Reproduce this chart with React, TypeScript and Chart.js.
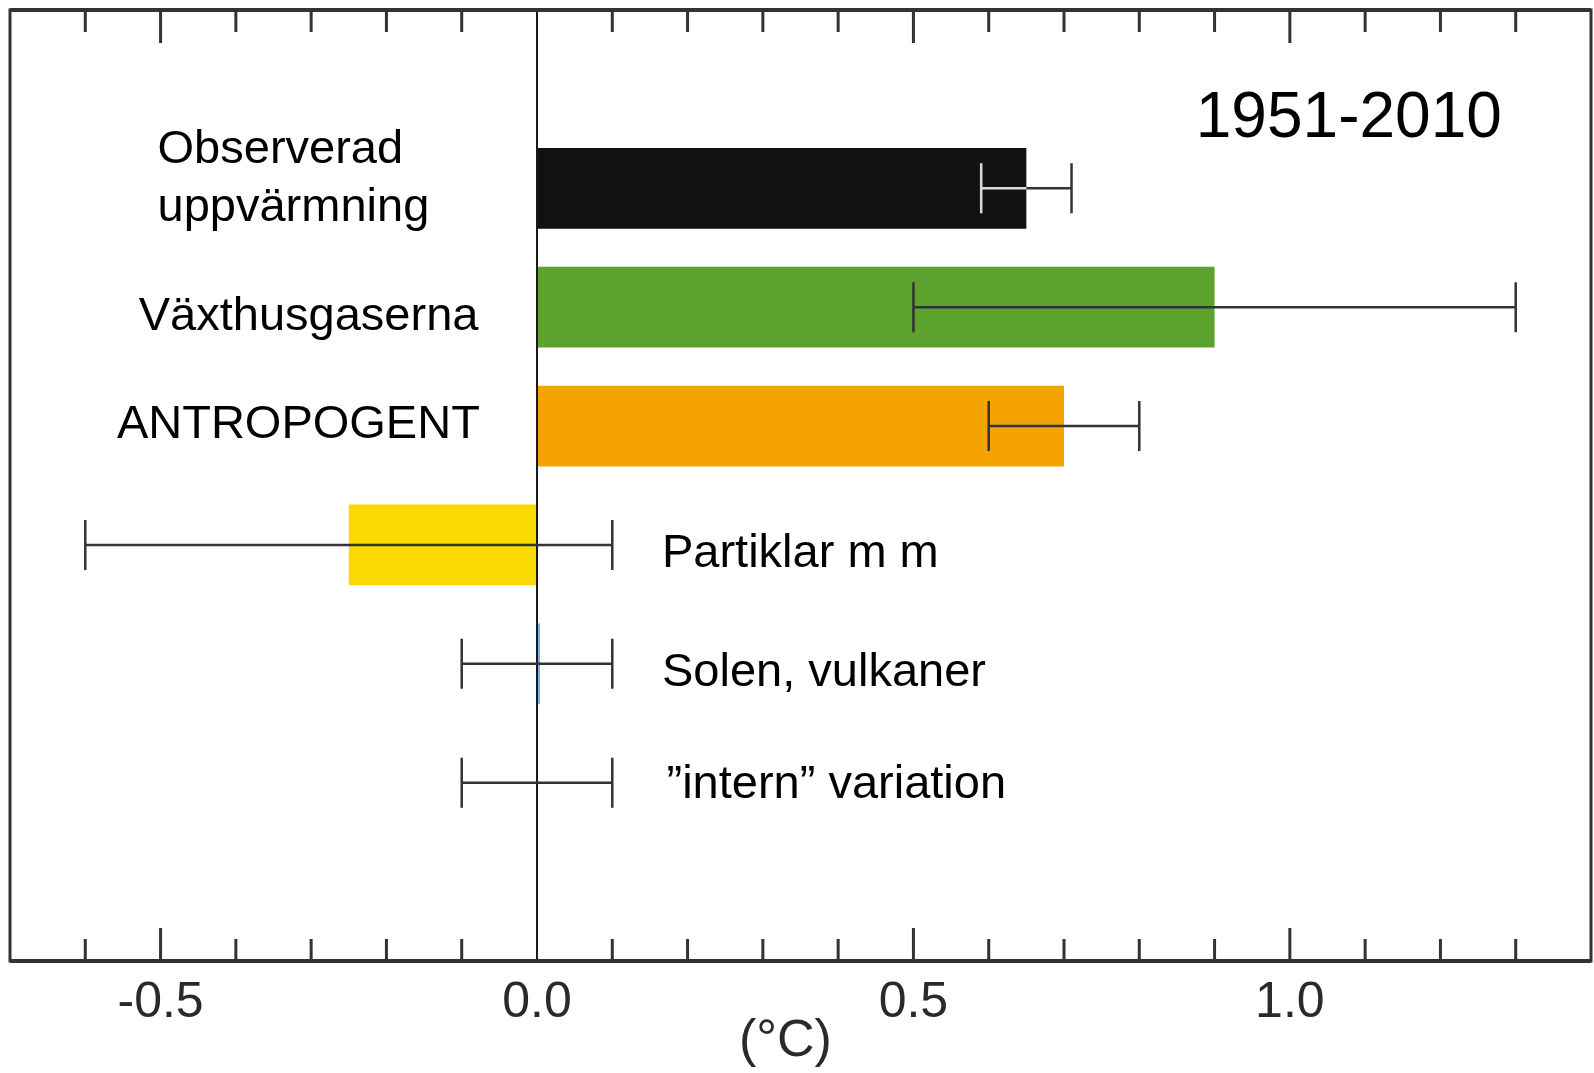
import React, { useEffect, useRef } from 'react';
import { Chart, registerables } from 'chart.js';

Chart.register(...registerables);

// ---- data ----
const categories: (string | string[])[] = [
  '',
  ['Observerad', 'uppvärmning'],
  'Växthusgaserna',
  'ANTROPOGENT',
  'Partiklar m m',
  'Solen, vulkaner',
  '”intern” variation',
  '',
];
const barValues: (number | null)[] = [null, 0.65, 0.9, 0.7, -0.25, 0.004, null, null];
const errLow: (number | null)[] = [null, 0.59, 0.5, 0.6, -0.6, -0.1, -0.1, null];
const errHigh: (number | null)[] = [null, 0.71, 1.3, 0.8, 0.1, 0.1, 0.1, null];
const minorTicks = [-0.6, -0.5, -0.4, -0.3, -0.2, -0.1, 0.1, 0.2, 0.3, 0.4, 0.5, 0.6, 0.7, 0.8, 0.9, 1.0, 1.1, 1.2, 1.3];
const majorTicks = [-0.5, 0.5, 1.0];
const tickLabelValues = [-0.5, 0.0, 0.5, 1.0];
const tickLabels = ['-0.5', '0.0', '0.5', '1.0'];
const periodTitle = '1951-2010';
const unitLabel = '(°C)';

// ---- styles ----
const barColors = ['#000000', '#111111', '#5ba22e', '#f5a300', '#fad900', '#7fb0e8', '#000000', '#000000'];
const FONT = '"Liberation Sans", Arial, Helvetica, sans-serif';
// label placement: anchor x (data units), side, baseline offsets from row centre
const labelPlacement: Record<number, { x: number; dy: number[] }> = {
  1: { x: -0.504, dy: [-25, 33] },
  2: { x: -0.529, dy: [23] },
  3: { x: -0.558, dy: [12] },
  4: { x: 0.166, dy: [22] },
  5: { x: 0.166, dy: [22] },
  6: { x: 0.172, dy: [15] },
};

const overlayPlugin = {
  id: 'overlay',
  afterDatasetsDraw(chart: any) {
    const { ctx, chartArea, scales } = chart;
    const xs = scales.x;
    const ys = scales.y;
    ctx.save();
    // zero line
    const x0 = xs.getPixelForValue(0);
    ctx.strokeStyle = '#1a1a1a';
    ctx.lineWidth = 2;
    ctx.beginPath();
    ctx.moveTo(x0, chartArea.top);
    ctx.lineTo(x0, chartArea.bottom);
    ctx.stroke();

    // error bars
    const cap = 25;
    for (let i = 0; i < categories.length; i++) {
      const lo = errLow[i];
      const hi = errHigh[i];
      if (lo == null || hi == null) continue;
      const yc = ys.getPixelForValue(i);
      const xl = xs.getPixelForValue(lo);
      const xh = xs.getPixelForValue(hi);
      ctx.lineWidth = 2.5;
      ctx.strokeStyle = '#333333';
      ctx.beginPath();
      ctx.moveTo(xl, yc);
      ctx.lineTo(xh, yc);
      ctx.moveTo(xl, yc - cap);
      ctx.lineTo(xl, yc + cap);
      ctx.moveTo(xh, yc - cap);
      ctx.lineTo(xh, yc + cap);
      ctx.stroke();
      // light whisker where it lies on a black bar
      const v = barValues[i];
      if (v != null && barColors[i] === '#111111') {
        const xb = xs.getPixelForValue(v);
        ctx.strokeStyle = '#d8d8d8';
        ctx.beginPath();
        ctx.moveTo(xl, yc);
        ctx.lineTo(Math.min(xb, xh), yc);
        ctx.moveTo(xl, yc - cap);
        ctx.lineTo(xl, yc + cap);
        ctx.stroke();
      }
    }

    // category labels
    ctx.fillStyle = '#000000';
    ctx.font = `47px ${FONT}`;
    ctx.textAlign = 'left';
    ctx.textBaseline = 'alphabetic';
    for (let i = 0; i < categories.length; i++) {
      const p = labelPlacement[i];
      if (!p) continue;
      const lab = categories[i];
      const lines = Array.isArray(lab) ? lab : [lab];
      const yc = ys.getPixelForValue(i);
      const x = xs.getPixelForValue(p.x);
      lines.forEach((ln, k) => ctx.fillText(ln, x, yc + p.dy[k]));
    }

    // period title
    ctx.font = `64px ${FONT}`;
    ctx.fillText(periodTitle, xs.getPixelForValue(0.875), chartArea.top + 127);
    ctx.restore();
  },
  afterDraw(chart: any) {
    const { ctx, chartArea, scales } = chart;
    const xs = scales.x;
    ctx.save();
    ctx.strokeStyle = '#333333';
    // frame
    ctx.lineWidth = 3;
    ctx.strokeRect(chartArea.left, chartArea.top, chartArea.right - chartArea.left, chartArea.bottom - chartArea.top);
    ctx.lineWidth = 4;
    ctx.beginPath();
    ctx.moveTo(chartArea.left, chartArea.top);
    ctx.lineTo(chartArea.right, chartArea.top);
    ctx.moveTo(chartArea.left, chartArea.bottom);
    ctx.lineTo(chartArea.right, chartArea.bottom);
    ctx.stroke();
    // ticks
    ctx.lineWidth = 3;
    ctx.beginPath();
    for (const t of minorTicks) {
      const x = xs.getPixelForValue(t);
      const len = majorTicks.includes(t) ? 33 : 22;
      ctx.moveTo(x, chartArea.top);
      ctx.lineTo(x, chartArea.top + len);
      ctx.moveTo(x, chartArea.bottom);
      ctx.lineTo(x, chartArea.bottom - len);
    }
    ctx.stroke();
    // tick labels
    ctx.fillStyle = '#2a2a2a';
    ctx.font = `50px ${FONT}`;
    ctx.textAlign = 'center';
    ctx.textBaseline = 'alphabetic';
    tickLabelValues.forEach((v, i) => {
      ctx.fillText(tickLabels[i], xs.getPixelForValue(v), chartArea.bottom + 56);
    });
    ctx.font = `52px ${FONT}`;
    ctx.fillText(unitLabel, xs.getPixelForValue(0.33), chartArea.bottom + 95);
    ctx.restore();
  },
};

export default function App() {
  const ref = useRef<HTMLCanvasElement | null>(null);
  useEffect(() => {
    if (!ref.current) return;
    const chart = new Chart(ref.current, {
      type: 'bar',
      data: {
        labels: categories as any,
        datasets: [
          {
            data: barValues as any,
            backgroundColor: barColors,
            borderWidth: 0,
            barPercentage: 0.68,
            categoryPercentage: 1,
          },
        ],
      },
      options: {
        indexAxis: 'y',
        animation: false,
        responsive: false,
        devicePixelRatio: 1,
        layout: { padding: { left: 10, top: 10, right: 3, bottom: 112 } },
        plugins: { legend: { display: false }, tooltip: { enabled: false }, title: { display: false } },
        scales: {
          x: { type: 'linear', min: -0.7, max: 1.4, display: false },
          y: { type: 'category', display: false, offset: true },
        },
      },
      plugins: [overlayPlugin],
    });
    return () => chart.destroy();
  }, []);
  return (
    <div style={{ position: 'absolute', left: 0, top: 0, width: 1594, height: 1073, background: '#ffffff' }}>
      <canvas ref={ref} width={1594} height={1073} />
    </div>
  );
}
